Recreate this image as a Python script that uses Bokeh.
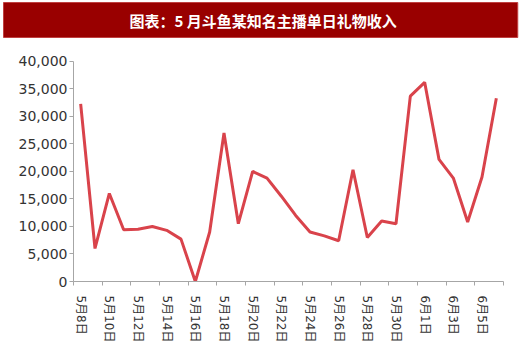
from bokeh.plotting import figure
from bokeh.models import Range1d, FixedTicker, NumeralTickFormatter, Title
from bokeh.embed import file_html
from bokeh.resources import INLINE

dates = ["5月8日", "5月9日", "5月10日", "5月11日", "5月12日", "5月13日", "5月14日", "5月15日",
         "5月16日", "5月17日", "5月18日", "5月19日", "5月20日", "5月21日", "5月22日", "5月23日",
         "5月24日", "5月25日", "5月26日", "5月27日", "5月28日", "5月29日", "5月30日", "5月31日",
         "6月1日", "6月2日", "6月3日", "6月4日", "6月5日", "6月6日"]
income = [32300, 6000, 16000, 9400, 9500, 10000, 9300, 7700, 0, 9000,
          27000, 10500, 20000, 18800, 15500, 12000, 9000, 8300, 7400, 20300,
          8000, 11000, 10500, 33700, 36200, 22200, 18800, 10800, 19000, 33300]
y_ticks = [0, 5000, 10000, 15000, 20000, 25000, 30000, 35000, 40000]
title_text = "图表：5 月斗鱼某知名主播单日礼物收入"

xs = list(range(len(dates)))

# frame starts right under the title bar; the y range is padded on top so that
# the 40,000 tick sits at the reference position, and the axis line stops there
y_max = y_ticks[-1]
y_top = y_max * 241 / 221

p = figure(width=520, height=351, output_backend="svg", toolbar_location=None,
           x_range=Range1d(-0.5, len(dates) - 0.5), y_range=Range1d(0, y_top),
           min_border_left=73, min_border_right=17, min_border_top=39, min_border_bottom=70)
p.outline_line_color = None
p.grid.visible = False
p.background_fill_color = "white"

p.line(xs, income, line_color="#D9434B", line_width=3)

# y axis
ya = p.yaxis[0]
ya.ticker = FixedTicker(ticks=y_ticks)
ya.bounds = (0, y_max)
ya.formatter = NumeralTickFormatter(format="0,0")
ya.major_tick_out = 4
ya.major_tick_in = 0
ya.minor_tick_out = 0
ya.minor_tick_in = 0
ya.axis_line_color = "#a6a6a6"
ya.major_tick_line_color = "#a6a6a6"
ya.major_label_text_font = "DejaVu Sans"
ya.major_label_text_font_size = "14px"
ya.major_label_text_color = "#333333"
ya.major_label_standoff = 2

# x axis
xa = p.xaxis[0]
label_idx = xs[::2]
bounds = [i - 0.5 for i in xs[::2]] + [len(dates) - 0.5]
xa.ticker = FixedTicker(ticks=label_idx, minor_ticks=bounds)
xa.major_label_overrides = {i: dates[i] for i in label_idx}
xa.major_label_orientation = "vertical"
xa.major_tick_out = 0
xa.major_tick_in = 0
xa.minor_tick_out = 4
xa.minor_tick_in = 0
xa.axis_line_color = "#a6a6a6"
xa.minor_tick_line_color = "#a6a6a6"
xa.major_label_text_font = "DejaVu Sans, Noto Sans CJK SC"
xa.major_label_text_font_size = "12px"
xa.major_label_text_color = "#333333"
xa.major_label_standoff = 10

# title bar
t = Title(text=title_text, align="left", vertical_align="top", offset=-70, standoff=4,
          text_color="white", text_font="Noto Sans CJK SC", text_font_style="bold",
          text_font_size="15px",
          background_fill_color="#990000", background_fill_alpha=1,
          border_line_color="#c04040", border_line_width=1,
          padding=dict(left=126, right=121, top=7, bottom=7))
p.add_layout(t, "above")

open("out.html", "w").write(file_html(p, INLINE))
